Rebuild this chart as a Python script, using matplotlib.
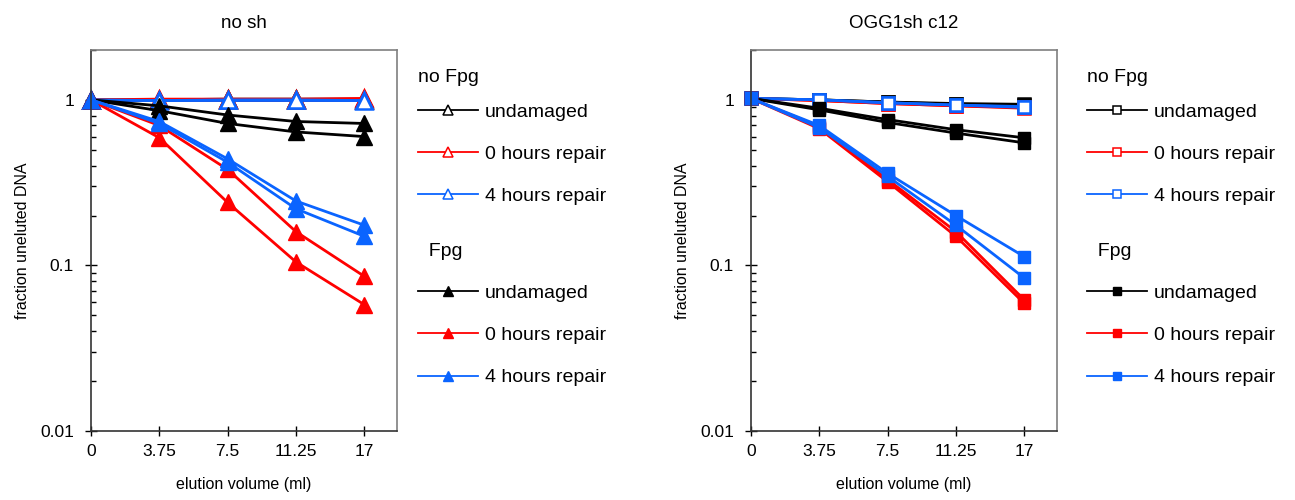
import numpy as np
import matplotlib
matplotlib.use("Agg")
import matplotlib.pyplot as plt
from matplotlib.lines import Line2D
from matplotlib.ticker import LogLocator, NullFormatter, FixedLocator

plt.rcParams['font.family'] = ['Liberation Sans', 'DejaVu Sans']

# elution fractions (categorical axis)
volumes = ["0", "3.75", "7.5", "11.25", "17"]

# no sh -- each condition has two replicates
nosh_nofpg_undam = [[1.0, 1.0, 1.01, 1.01, 1.01], [1.0, 1.0, 1.0, 1.0, 1.0]]
nosh_nofpg_0h = [[1.0, 1.01, 1.01, 1.01, 1.02], [1.0, 1.0, 1.0, 1.0, 1.0]]
nosh_nofpg_4h = [[1.0, 1.0, 1.0, 1.0, 1.0], [1.0, 0.99, 1.0, 1.0, 0.99]]
nosh_fpg_undam = [[1.0, 0.92, 0.81, 0.74, 0.72], [1.0, 0.86, 0.72, 0.64, 0.60]]
nosh_fpg_0h = [[1.0, 0.70, 0.38, 0.16, 0.086], [1.0, 0.59, 0.24, 0.105, 0.058]]
nosh_fpg_4h = [[1.0, 0.74, 0.44, 0.245, 0.175], [1.0, 0.72, 0.42, 0.22, 0.15]]

# OGG1sh c12
ogg_nofpg_undam = [[1.02, 1.0, 0.97, 0.95, 0.94], [1.02, 1.0, 0.97, 0.94, 0.93]]
ogg_nofpg_0h = [[1.02, 0.99, 0.95, 0.92, 0.89], [1.02, 0.99, 0.95, 0.92, 0.90]]
ogg_nofpg_4h = [[1.02, 1.0, 0.96, 0.93, 0.90], [1.02, 1.0, 0.96, 0.93, 0.91]]
ogg_fpg_undam = [[1.02, 0.89, 0.76, 0.66, 0.59], [1.02, 0.87, 0.73, 0.63, 0.55]]
ogg_fpg_0h = [[1.02, 0.69, 0.33, 0.16, 0.062], [1.02, 0.67, 0.32, 0.15, 0.059]]
ogg_fpg_4h = [[1.02, 0.70, 0.36, 0.20, 0.113], [1.02, 0.68, 0.345, 0.175, 0.084]]

labels = ["undamaged", "0 hours repair", "4 hours repair"]
colors = ["black", "#ff0000", "#0a64ff"]

fig = plt.figure(figsize=(12.95, 5.0), dpi=100)
ax1 = fig.add_axes([91 / 1295, 69 / 500, 306 / 1295, 381 / 500])
ax2 = fig.add_axes([751 / 1295, 69 / 500, 306 / 1295, 381 / 500])


def draw(ax, title, nofpg, fpg, marker, ms, lx):
    x = np.arange(len(volumes))
    # no Fpg: open markers
    for reps, c in zip(nofpg, colors):
        for r in reps:
            ax.plot(x, r, "-", color=c, lw=2.0, marker=marker, ms=ms,
                    mfc="white", mec=c, mew=1.8, clip_on=False)
    # Fpg: filled markers
    for reps, c in zip(fpg, colors):
        for r in reps:
            ax.plot(x, r, "-", color=c, lw=2.0, marker=marker, ms=ms,
                    mfc=c, mec=c, mew=1.0, clip_on=False)

    ax.set_yscale("log")
    ax.set_ylim(0.01, 2)
    ax.set_xlim(0, 4.48)
    ax.set_xticks(x)
    ax.set_xticklabels(volumes)
    ax.yaxis.set_major_locator(FixedLocator([0.01, 0.1, 1]))
    ax.set_yticklabels(["0.01", "0.1", "1"])
    ax.yaxis.set_minor_locator(LogLocator(base=10, subs=np.arange(2, 10)))
    ax.yaxis.set_minor_formatter(NullFormatter())
    ax.tick_params(axis="x", direction="inout", length=7, width=1, labelsize=12.5, pad=6)
    ax.tick_params(axis="y", which="major", direction="inout", length=8.5, width=1, labelsize=12.5, pad=8)
    ax.tick_params(axis="y", which="minor", direction="in", length=3.5, width=1)
    ax.tick_params(top=False, right=False)
    for s in ["left", "bottom"]:
        ax.spines[s].set_color("#333333")
        ax.spines[s].set_linewidth(1.2)
    for s in ["top", "right"]:
        ax.spines[s].set_color("#7f7f7f")
        ax.spines[s].set_linewidth(1.2)
    ax.set_xlabel("elution volume (ml)", fontsize=11.5, labelpad=13)
    ax.set_ylabel("fraction uneluted DNA", fontsize=11.5, labelpad=7)
    ax.set_title(title, fontsize=13.5, pad=16)

    # legends
    h_open = [Line2D([], [], color=c, lw=1.3, marker=marker, ms=ms * 0.65,
                     mfc="white", mec=c, mew=1.1) for c in colors]
    h_fill = [Line2D([], [], color=c, lw=1.3, marker=marker, ms=ms * 0.65,
                     mfc=c, mec=c) for c in colors]
    kw = dict(loc="upper left", frameon=False, fontsize=14, title_fontsize=14,
              handlelength=3.1, handletextpad=0.35, labelspacing=1.26,
              borderpad=0, borderaxespad=0, alignment="left")
    leg1 = fig.legend(h_open, labels, title="no Fpg",
                      bbox_to_anchor=(lx / 1295, 1 - 69 / 500), **kw)
    leg1._legend_box.sep = 12.4  # tighter gap under the "no Fpg" title
    fig.legend(h_fill, labels, title="  Fpg",
               bbox_to_anchor=(lx / 1295, 1 - 243 / 500), **kw)


draw(ax1, "no sh",
     [nosh_nofpg_undam, nosh_nofpg_0h, nosh_nofpg_4h],
     [nosh_fpg_undam, nosh_fpg_0h, nosh_fpg_4h], "^", 11, 418)
draw(ax2, "OGG1sh c12",
     [ogg_nofpg_undam, ogg_nofpg_0h, ogg_nofpg_4h],
     [ogg_fpg_undam, ogg_fpg_0h, ogg_fpg_4h], "s", 8.5, 1087)

fig.savefig("out.png", dpi=100)
